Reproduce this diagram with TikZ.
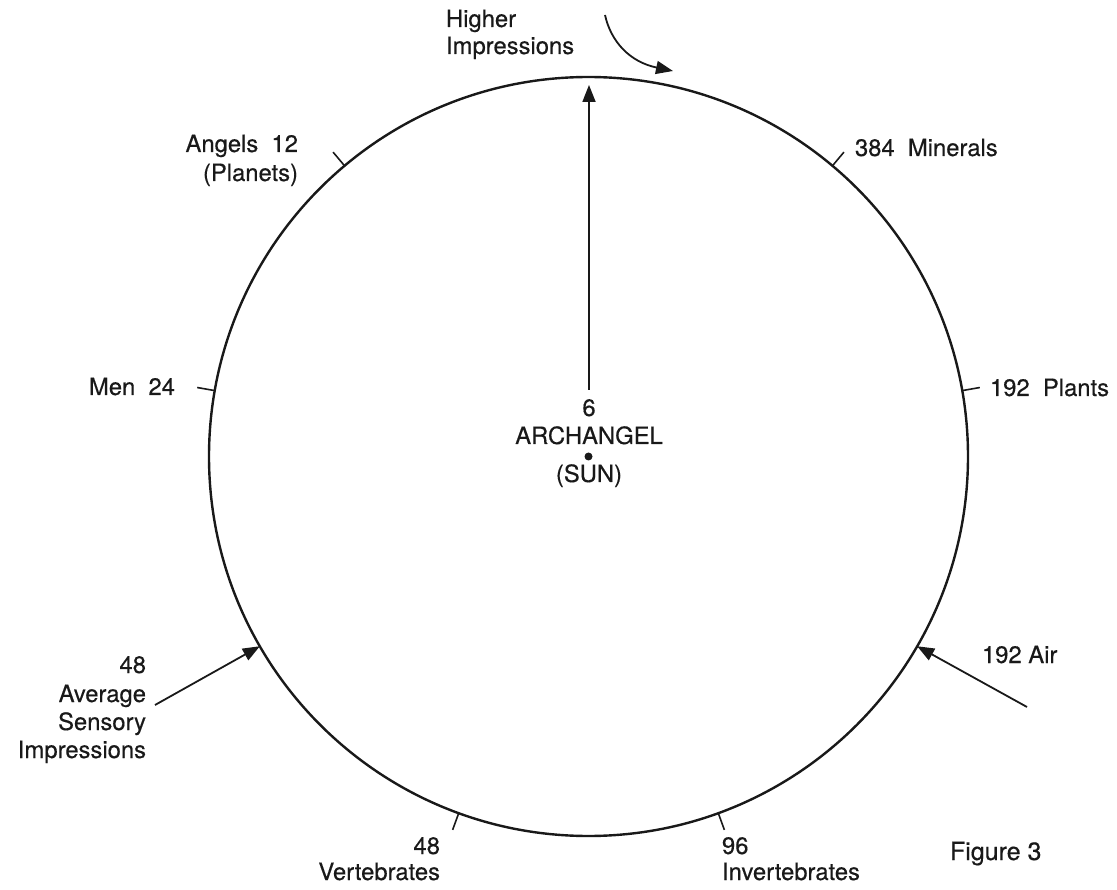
\documentclass[tikz,border=0pt]{standalone}
\usepackage{fontspec}
\setmainfont{TeX Gyre Heros}[FakeBold=0.4]
\usetikzlibrary{calc,arrows.meta}
\begin{document}
\begin{tikzpicture}[x=1pt,y=-1pt,
  lbl/.style={inner sep=0pt, outer sep=0pt, font=\fontsize{23.8}{28}\selectfont, text=black!90},
  ring/.style={circle, draw=black!90, line width=2.4pt, minimum size=759pt, inner sep=0pt, outer sep=0pt},
  tickmark/.style={draw=black!90, line width=1.6pt},
  arr/.style={draw=black!90, line width=1.8pt, -{Triangle[length=17pt,width=13pt]}},
]
\useasboundingbox (0,0) rectangle (1117,890);

% circle and centre
\node[ring] (C) at (588.5,456.5) {};
\node[circle, fill=black!90, inner sep=0pt, minimum size=8pt] (dot) at (C.center) {};

% ticks
\foreach \a/\n in {10/pl,50/mi,130/an,170/me,-110/ve,-70/iv} {
  \coordinate (t\n) at ($(C.center)!1.047!(C.\a)$);
  \draw[tickmark] (C.\a) -- (t\n);
}

% labels
\node[lbl, anchor=base west] (hi1) at (446,27) {Higher};
\node[lbl, anchor=base west] (hi2) at (446,54) {Impressions};
\node[lbl, anchor=base east] (an1) at (298,152) {Angels~~12};
\node[lbl, anchor=base east] (an2) at (298,181) {(Planets)};
\node[lbl, anchor=base west] (mi) at (855,156) {384~~Minerals};
\node[lbl, anchor=base east] (me) at (175,395) {Men~~24};
\node[lbl, anchor=base west] (pl) at (990,396) {192~~Plants};
\node[lbl, anchor=base] (six) at (589,416) {6};
\node[lbl, anchor=base] (arch) at (589,444) {ARCHANGEL};
\node[lbl, anchor=base] (sun) at (589,482) {(SUN)};
\node[lbl, anchor=base west] (air) at (982,663) {192 Air};
\node[lbl, anchor=base east] (av1) at (146,673) {48};
\node[lbl, anchor=base east] (av2) at (146,702) {Average};
\node[lbl, anchor=base east] (av3) at (146,730) {Sensory};
\node[lbl, anchor=base east] (av4) at (146,758) {Impressions};
\node[lbl, anchor=base east] (ve1) at (440,854) {48};
\node[lbl, anchor=base east] (ve2) at (440,880) {Vertebrates};
\node[lbl, anchor=base west] (iv1) at (722,854) {96};
\node[lbl, anchor=base west] (iv2) at (722,880) {Invertebrates};
\node[lbl, anchor=base west, font=\fontsize{25}{30}\selectfont] (fig) at (950,860) {Figure 3};

% arrows
\coordinate (airtail) at (1027,707);
\draw[arr] (airtail) -- (C.-30);
\coordinate (avtail) at (155,705);
\draw[arr] (avtail) -- (C.210);
\coordinate (toptail) at (589,390);
\coordinate (toptip) at (589,85);
\draw[arr] (toptail) -- (toptip);
\coordinate (hs) at (605,15);
\coordinate (he) at (673,71);
\draw[arr] (hs) .. controls (611,42) and (630,62) .. (he);
\end{tikzpicture}
\end{document}
